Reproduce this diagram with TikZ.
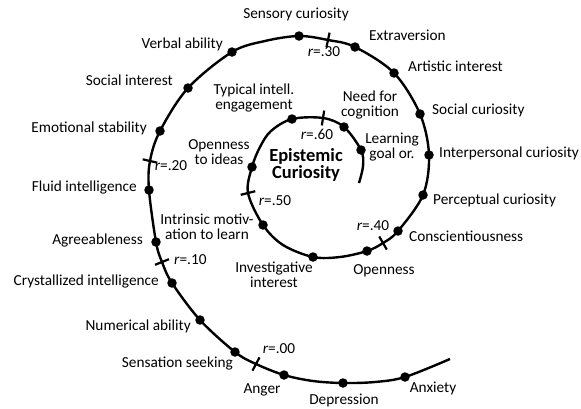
\documentclass[tikz,border=0pt]{standalone}
\usepackage{fontspec}
\setmainfont{Carlito}
\begin{document}
\begin{tikzpicture}[x=1pt, y=-1pt,
  dot/.style={circle, fill=black, inner sep=0pt, minimum size=9.5pt},
  rtick/.style={fill=black, inner sep=0pt, minimum width=15pt, minimum height=2.2pt},
  lbl/.style={font=\fontsize{15.3}{14.8}\selectfont, inner sep=0pt, align=center},
  core/.style={font=\fontsize{18.5}{17.2}\selectfont\bfseries, inner sep=0pt, align=center},
  spiral/.style={line width=2.4pt}
]
  \useasboundingbox (0,0) rectangle (581,408);

  % dots on the spiral, inside out
  \node[dot] (learn) at (361,150) {};
  \node[dot] (need) at (344,127) {};
  \node[dot] (typical) at (292,119) {};
  \node[dot] (ideas) at (252,167) {};
  \node[dot] (intrinsic) at (263,225) {};
  \node[dot] (invest) at (313,257) {};
  \node[dot] (open) at (367,251) {};
  \node[dot] (consc) at (398,231) {};
  \node[dot] (percept) at (423,195) {};
  \node[dot] (interp) at (429,155) {};
  \node[dot] (soccur) at (420,114) {};
  \node[dot] (artist) at (394,73) {};
  \node[dot] (extra) at (355,47) {};
  \node[dot] (sensory) at (299,36) {};
  \node[dot] (verbal) at (232,52) {};
  \node[dot] (socint) at (188,88) {};
  \node[dot] (emo) at (160,131) {};
  \node[dot] (fluid) at (149,190) {};
  \node[dot] (agree) at (156,242) {};
  \node[dot] (cryst) at (172,283) {};
  \node[dot] (numer) at (200,320) {};
  \node[dot] (seek) at (235,352) {};
  \node[dot] (anger) at (284,375) {};
  \node[dot] (depr) at (343,383) {};
  \node[dot] (anx) at (405,377) {};

  % r ticks
  \node[rtick, rotate=81] (r60) at (323,118) {};
  \node[rtick, rotate=14] (r50) at (248,193) {};
  \node[rtick, rotate=-60] (r40) at (383,243) {};
  \node[rtick, rotate=78] (r30) at (328,40) {};
  \node[rtick, rotate=-13] (r20) at (150,161) {};
  \node[rtick, rotate=22] (r10) at (162,262) {};
  \node[rtick, rotate=62] (r00) at (256,364) {};

  % free points of the curve
  \coordinate (inner) at (359,183);
  \coordinate (w1) at (363,166);
  \coordinate (w3) at (271,131);
  \coordinate (w4) at (260,147);
  \coordinate (w5) at (283,245);
  \coordinate (w6) at (340,257);
  \coordinate (w7) at (265,41);
  \coordinate (w9) at (313,381);
  \coordinate (w10) at (375,382);
  \coordinate (outer) at (450,359);

  \draw[spiral] plot[smooth, tension=0.55] coordinates {(inner) (w1) (learn.center) (need.center)
    (r60.center) (typical.center) (w3) (w4) (ideas.center) (r50.center) (intrinsic.center) (w5)
    (invest.center) (w6) (open.center) (r40.center) (consc.center) (percept.center) (interp.center)
    (soccur.center) (artist.center) (extra.center) (r30.center) (sensory.center) (w7) (verbal.center)
    (socint.center) (emo.center) (r20.center) (fluid.center) (agree.center) (r10.center)
    (cryst.center) (numer.center) (seek.center) (r00.center) (anger.center) (w9) (depr.center)
    (w10) (anx.center) (outer)};

  % labels
  \node[core] (epi) at (306,165) {Epistemic\\Curiosity};
  \node[lbl] (l-learn) at (392,147) {Learning\\goal or.};
  \node[lbl] (l-need) at (370,105) {Need for\\cognition};
  \node[lbl] (l-typical) at (254,98) {Typical intell.\\engagement};
  \node[lbl] (l-ideas) at (219,152) {Openness\\to ideas};
  \node[lbl] (l-intrinsic) at (207,227) {Intrinsic motiv-\\ation to learn};
  \node[lbl] (l-invest) at (274,275) {Investigative\\interest};
  \node[lbl, anchor=mid] (l-open) at (384,272) {Openness};
  \node[lbl, anchor=mid west] (l-consc) at (409,239) {Conscientiousness};
  \node[lbl, anchor=mid west] (l-percept) at (433,202) {Perceptual curiosity};
  \node[lbl, anchor=mid west] (l-interp) at (439,155) {Interpersonal curiosity};
  \node[lbl, anchor=mid west] (l-soccur) at (432,112) {Social curiosity};
  \node[lbl, anchor=mid west] (l-artist) at (408,69) {Artistic interest};
  \node[lbl, anchor=mid west] (l-extra) at (369,38) {Extraversion};
  \node[lbl, anchor=mid] (l-sensory) at (296,16) {Sensory curiosity};
  \node[lbl, anchor=mid east] (l-verbal) at (223,46) {Verbal ability};
  \node[lbl, anchor=mid east] (l-socint) at (173,83) {Social interest};
  \node[lbl, anchor=mid east] (l-emo) at (147,130) {Emotional stability};
  \node[lbl, anchor=mid east] (l-fluid) at (137,189) {Fluid intelligence};
  \node[lbl, anchor=mid east] (l-agree) at (143,242) {Agreeableness};
  \node[lbl, anchor=mid east] (l-cryst) at (159,283) {Crystallized intelligence};
  \node[lbl, anchor=mid east] (l-numer) at (191,328) {Numerical ability};
  \node[lbl, anchor=mid east] (l-seek) at (233,365) {Sensation seeking};
  \node[lbl, anchor=mid] (l-anger) at (262,391) {Anger};
  \node[lbl, anchor=mid] (l-depr) at (344,402) {Depression};
  \node[lbl, anchor=mid] (l-anx) at (433,390) {Anxiety};

  % r values
  \node[lbl, anchor=mid] (l-r60) at (317,137) {\textit{r}=.60};
  \node[lbl, anchor=mid] (l-r50) at (275,203) {\textit{r}=.50};
  \node[lbl, anchor=mid] (l-r40) at (373,228) {\textit{r}=.40};
  \node[lbl, anchor=mid] (l-r30) at (324,54) {\textit{r}=.30};
  \node[lbl, anchor=mid] (l-r20) at (171,168) {\textit{r}=.20};
  \node[lbl, anchor=mid west] (l-r10) at (174,262) {\textit{r}=.10};
  \node[lbl, anchor=mid] (l-r00) at (279,351) {\textit{r}=.00};
\end{tikzpicture}
\end{document}
